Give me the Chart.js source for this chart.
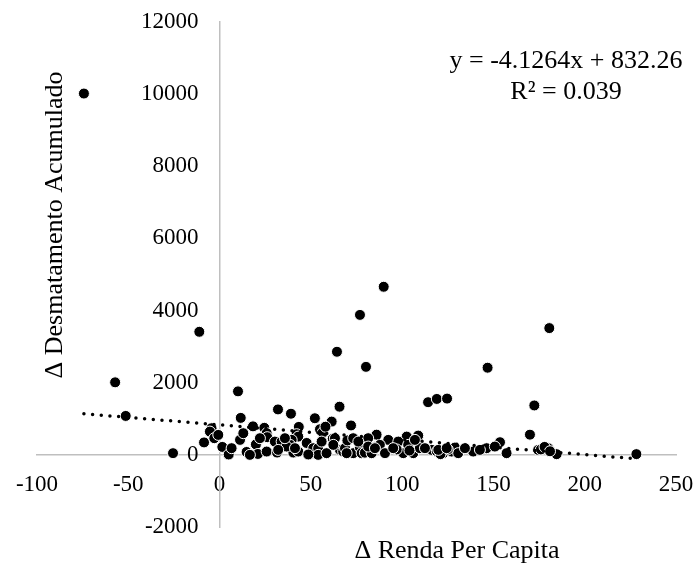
<!DOCTYPE html>
<html lang="pt">
<head>
<meta charset="utf-8">
<title>Δ Desmatamento Acumulado x Δ Renda Per Capita</title>
<script src="https://cdn.jsdelivr.net/npm/chart.js@4.4.1/dist/chart.umd.min.js"></script>
<style>
  html, body { margin: 0; padding: 0; background: #fff; }
  #wrap { width: 697px; height: 565px; position: relative; }
</style>
</head>
<body>
<div id="wrap"><canvas id="grafico" width="697" height="565"></canvas></div>
<script>
// Δ Renda Per Capita (eixo x)
const rendaPerCapita = [
  -74.3, -11.1, -57.2, -51.4, -25.5, 10.1, 64.3, 65.7, 76.9, 89.9,
  80.2, 146.8, 180.6, 114.2, 119.0, 124.6, 172.4, 170.0, 228.3,
  11.6, -4.4, -5.3, -8.5, -2.9, 1.5, 5.0, 11.2, 13.0, 18.3,
  24.5, 25.8, 26.1, 19.9, 14.8, 21.0, 25.8, 30.3, 31.5, 32.0,
  39.1, 43.4, 52.2, 55.0, 61.4, 72.0, 42.2, 43.1, 39.5, 47.7,
  34.0, 38.6, 40.4, 43.1, 50.4, 51.3, 54.0, 54.0, 48.6, 58.6,
  36.7, 32.1, 65.9, 67.7, 68.7, 73.2, 76.9, 77.8, 79.6, 86.0,
  86.0, 81.4, 92.4, 102.5, 108.8, 87.8, 90.6, 83.3, 97.9, 100.6,
  103.3, 106.1, 109.7, 116.2, 122.5, 127.1, 128.9, 130.7, 138.9, 146.3,
  153.6, 157.2, 174.5, 177.3, 180.0, 184.6, 119.0, 125.0, 121.0, 176.0,
  178.0, 181.0, 97.0, 104.0, 56.5, 58.0, 62.0, 70.0,
  -0.7, 6.6, 22.1, 16.6, 35.8, 55.9, 63.2, 73.2, 76.0, 81.4,
  41.3, 62.3, 69.6, 85.1, 95.1, 107.0, 112.5, 119.8, 124.4, 134.4,
  142.6, 150.8
];

// Δ Desmatamento Acumulado (eixo y)
const desmatamento = [
  10017, 3412, 2011, 1079, 47, 1760, 2858, 1335, 3880, 4660,
  2440, 2416, 3514, 1460, 1550, 1560, 1370, 560, 20,
  1025, 738, 645, 345, 462, 220, 10, 415, 600, 790,
  750, 600, 490, 290, 80, 25, 92, 368, 64, 1260,
  1140, 775, 1015, 711, 922, 815, 572, 506, 415, 330,
  368, 277, 64, 92, 47, 185, 185, 0, 10, 47,
  230, 138, 138, 92, 185, 47, 200, 47, 60, 230,
  560, 462, 415, 506, 534, 277, 47, 47, 368, 47,
  277, 47, 185, 138, 47, 92, 202, 47, 92, 185,
  351, 47, 138, 185, 185, 19, 100, 150, 20, 150,
  220, 100, 150, 120, 620, 780, 450, 400,
  553, 185, 462, 0, 462, 368, 462, 462, 368, 230,
  185, 277, 47, 185, 185, 415, 185, 138, 185, 185,
  138, 230
];

// Linha de tendência linear (extremos)
const tendenciaX = [-74.3, 228.3];
const tendenciaY = [1139, -110];

const equacao = 'y = -4.1264x + 832.26';
const coefR2 = 'R² = 0.039';
const tituloX = 'Δ Renda Per Capita';
const tituloY = 'Δ Desmatamento Acumulado';

const fonte = '"Liberation Serif", "Times New Roman", serif';

const pontos = rendaPerCapita.map((x, i) => ({ x: x, y: desmatamento[i] }));
const tendencia = tendenciaX.map((x, i) => ({ x: x, y: tendenciaY[i] }));

// Sem margens extras calculadas pelos eixos
function semPadding(scale) {
  scale.paddingTop = 0;
  scale.paddingBottom = 0;
  scale.paddingLeft = 0;
  scale.paddingRight = 0;
}

// Textos: rótulos do eixo y, equação e títulos dos eixos
const textos = {
  id: 'textos',
  afterDraw(chart) {
    const ctx = chart.ctx;
    const sx = chart.scales.x;
    const sy = chart.scales.y;
    ctx.save();
    ctx.fillStyle = '#000';

    ctx.font = '23px ' + fonte;
    ctx.textAlign = 'right';
    ctx.textBaseline = 'middle';
    const xEixo = sx.getPixelForValue(0) - 21;
    sy.ticks.forEach(t => {
      ctx.fillText(String(t.value), xEixo, sy.getPixelForValue(t.value));
    });

    ctx.font = '26px ' + fonte;
    ctx.textAlign = 'center';
    ctx.textBaseline = 'alphabetic';
    ctx.fillText(equacao, 566, 68);
    ctx.fillText(coefR2, 566, 99);
    ctx.fillText(tituloX, 457, 558);
    ctx.translate(62, 225);
    ctx.rotate(-Math.PI / 2);
    ctx.fillText(tituloY, 0, 0);
    ctx.restore();
  }
};

new Chart(document.getElementById('grafico'), {
  type: 'scatter',
  data: {
    datasets: [
      {
        data: tendencia,
        showLine: true,
        borderColor: '#000',
        borderWidth: 3.5,
        borderDash: [0, 8.7],
        borderCapStyle: 'round',
        pointRadius: 0,
        fill: false
      },
      {
        data: pontos,
        pointRadius: 5.5,
        pointBackgroundColor: '#000',
        pointBorderColor: '#fff',
        pointBorderWidth: 1
      }
    ]
  },
  options: {
    responsive: false,
    animation: false,
    devicePixelRatio: 1,
    layout: { padding: { left: 37, right: 21, top: 22, bottom: 38 } },
    plugins: { legend: { display: false }, tooltip: { enabled: false } },
    scales: {
      x: {
        type: 'linear',
        min: -100,
        max: 250,
        position: { y: 0 },
        afterFit: semPadding,
        grid: { display: false, drawTicks: false },
        border: { display: true, color: '#bfbfbf', width: 1.5 },
        ticks: {
          stepSize: 50,
          padding: 16,
          autoSkip: false,
          maxRotation: 0,
          color: '#000',
          font: { family: fonte, size: 23 },
          callback: v => String(v)
        }
      },
      y: {
        type: 'linear',
        min: -2000,
        max: 12000,
        position: { x: 0 },
        afterFit: semPadding,
        grid: { display: false, drawTicks: false },
        border: { display: true, color: '#bfbfbf', width: 1.5 },
        ticks: {
          stepSize: 2000,
          autoSkip: false,
          display: false
        }
      }
    }
  },
  plugins: [textos]
});
</script>
</body>
</html>
